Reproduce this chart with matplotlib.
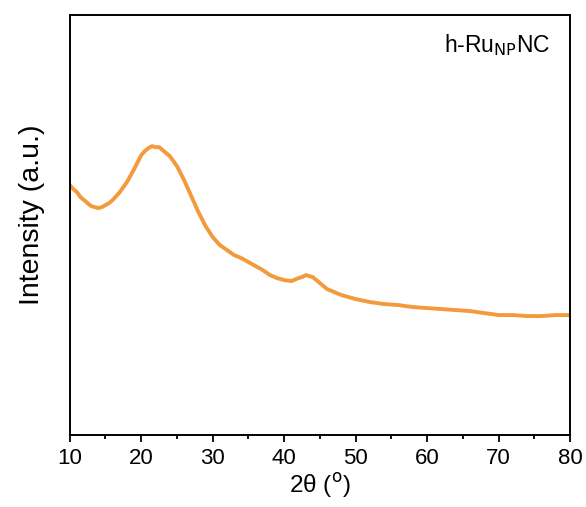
import numpy as np
import matplotlib.pyplot as plt

plt.rcParams['font.family'] = ['Liberation Sans', 'DejaVu Sans']

# XRD pattern (2theta in degrees, intensity in arbitrary units)
two_theta = [10, 10.5, 11, 11.5, 12, 12.5, 13, 13.5, 14, 14.5, 15, 15.5, 16, 17, 18, 19, 20,
             20.5, 21, 21.5, 22, 22.5, 23, 24, 25, 26, 27, 28, 29, 30, 31, 32, 33, 34, 35,
             36, 37, 38, 39, 40, 41, 42, 42.5, 43, 43.5, 44, 45, 46, 47, 48, 49, 50, 52,
             54, 56, 58, 60, 62, 64, 66, 68, 70, 72, 74, 76, 78, 80]
intensity = [250, 246, 243, 238, 235, 232, 229, 228, 227, 228, 230, 232, 235, 243, 253, 266, 280,
             284, 287, 289, 288, 288, 285, 279, 269, 255, 239, 223, 209, 198, 190, 185, 180, 177, 173,
             169, 165, 160, 157, 155, 154, 157, 158, 160, 159, 158, 152, 146, 143, 140, 138, 136, 133,
             131, 130, 128, 127, 126, 125, 124, 122, 120, 120, 119, 119, 120, 120]

fig = plt.figure(figsize=(5.86, 5.07), dpi=100)
ax = fig.add_axes([0.119, 0.142, 0.854, 0.828])
ax.plot(two_theta, intensity, color='#F39A3C', lw=2.8)

ax.set_xlim(10, 80)
ax.set_ylim(0, 420)
ax.set_xticks(np.arange(10, 81, 10))
ax.set_xticks(np.arange(15, 80, 10), minor=True)
ax.tick_params(axis='x', which='major', direction='out', length=5, width=1.3, labelsize=16, pad=4)
ax.tick_params(axis='x', which='minor', direction='out', length=3, width=1.3)
ax.set_yticks([])
for s in ax.spines.values():
    s.set_linewidth(1.4)

ax.set_xlabel('2θ ($^{\\rm o}$)', fontsize=17.5, labelpad=2)
ax.set_ylabel('Intensity (a.u.)', fontsize=20.5)
ax.yaxis.set_label_coords(-0.05, 0.524)
ax.text(0.96, 0.928, 'h-Ru$_{\\rm NP}$NC', transform=ax.transAxes, ha='right', va='center', fontsize=16.5)

fig.savefig('out.png', dpi=100)
